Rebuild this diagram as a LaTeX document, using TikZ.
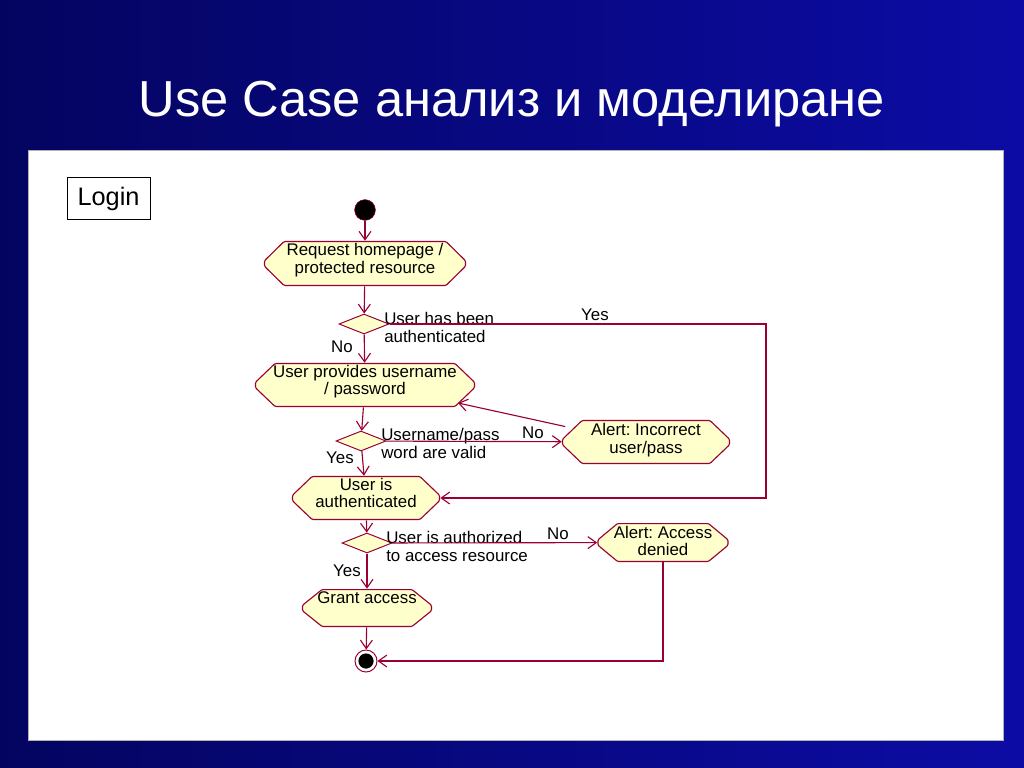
\documentclass[tikz,border=0pt]{standalone}
\usepackage{fontspec}
\setmainfont{Liberation Sans}
\frenchspacing
\usetikzlibrary{arrows.meta,shapes.geometric}

\definecolor{bgdark}{RGB}{4,4,96}
\definecolor{bglight}{RGB}{12,12,165}
\definecolor{rosefill}{RGB}{255,255,204}
\definecolor{roseline}{RGB}{153,0,51}

\tikzset{
  activity/.style={rectangle, align=center, inner sep=0pt, text depth=7pt,
    font=\fontsize{12}{12.5}\selectfont,
    path picture={
      \draw[roseline, fill=rosefill, line width=0.8pt, rounded corners=0.8pt]
        ([xshift=0.5cm, yshift=-0.4pt]path picture bounding box.north west)
        -- ([xshift=-0.5cm, yshift=-0.4pt]path picture bounding box.north east)
        -- ([xshift=-0.4pt, yshift=2pt]path picture bounding box.east)
        -- ([xshift=-0.4pt, yshift=-2pt]path picture bounding box.east)
        -- ([xshift=-0.5cm, yshift=0.4pt]path picture bounding box.south east)
        -- ([xshift=0.5cm, yshift=0.4pt]path picture bounding box.south west)
        -- ([xshift=0.4pt, yshift=-2pt]path picture bounding box.west)
        -- ([xshift=0.4pt, yshift=2pt]path picture bounding box.west)
        -- cycle;}},
  decision/.style={diamond, draw=roseline, fill=rosefill, line width=0.7pt,
    inner sep=0pt, minimum width=1.25cm, minimum height=0.5cm},
  flow/.style={draw=roseline, line width=0.8pt,
    -{Straight Barb[length=6pt, width=8.5pt, line width=0.8pt]}},
  guard/.style={inner sep=0pt, align=left, font=\fontsize{12}{12.5}\selectfont}
}

\begin{document}
\begin{tikzpicture}[x=0.025cm, y=-0.025cm]
  \useasboundingbox (0,0) rectangle (1024,768);
  \shade[left color=bgdark, right color=bglight] (0,0) rectangle (1024,768);
  \fill[white] (28,150) rectangle (1003,740);
  \draw[gray!60, line width=0.4pt] (28,150) rectangle (1003,740);

  \node (title) at (512,104) [text=white, font=\fontsize{36}{40}\selectfont]
    {Use Case анализ и моделиране};
  \node (login) at (108.5,198) [draw=black, line width=0.5pt, inner sep=0pt,
    minimum width=2.075cm, minimum height=1.05cm, text depth=2pt,
    font=\fontsize{18}{20}\selectfont] {Login};

  \node (start) at (365,210) [circle, fill=black, draw=roseline, inner sep=0pt,
    minimum size=0.52cm] {};
  \node (req) at (365,263.5) [activity, minimum width=5.05cm,
    minimum height=1.125cm] {Request homepage /\\protected resource};
  \node (chk1) at (364,324) [decision] {};
  \node (creds) at (365,385) [activity, minimum width=5.5cm,
    minimum height=1.1cm] {User provides username\\/ password};
  \node (chk2) at (361,441) [decision] {};
  \node (badpass) at (646,442) [activity, minimum width=4.2cm,
    minimum height=1.1cm, text depth=5pt] {Alert: Incorrect\\user/pass};
  \node (authd) at (366,498) [activity, minimum width=3.7cm,
    minimum height=1.1cm] {User is\\authenticated};
  \node (chk3) at (367,543) [decision] {};
  \node (denied) at (663,542.5) [activity, minimum width=3.275cm,
    minimum height=0.975cm, text depth=2.5pt] {Alert: Access\\denied};
  \node (grant) at (367,608) [activity, minimum width=3.25cm,
    minimum height=0.95cm, text depth=15pt] {Grant access};
  \node (stop) at (366,661) [circle, draw=roseline, fill=white, line width=0.7pt,
    inner sep=0pt, minimum size=0.55cm,
    path picture={\fill[black] (path picture bounding box.center) circle (0.19cm);}] {};
  \coordinate (yesturn) at (766,324);
  \coordinate (retry) at (458,403);

  \node (g1) at (384,327.5) [guard, anchor=west] {User has been\\authenticated};
  \node (g2) at (381,443.5) [guard, anchor=west] {Username/pass\\word are valid};
  \node (g3) at (386,546.5) [guard, anchor=west] {User is authorized\\to access resource};

  \draw[flow] (start) -- (req);
  \draw[flow] (req) -- (chk1);
  \draw[flow] (chk1) -- (creds);
  \node[guard] at (342,347) {No};
  \draw[flow] (chk1) -- (yesturn) |- (authd);
  \node[guard] at (595,315) {Yes};
  \draw[flow] (creds) -- (chk2);
  \draw[flow] (chk2) -- (badpass);
  \node[guard] at (533,433) {No};
  \draw[flow] ([xshift=2.5pt, yshift=11pt]badpass.west) -- (retry);
  \draw[flow] (chk2) -- (authd);
  \node[guard] at (340,458) {Yes};
  \draw[flow] (authd) -- (chk3);
  \draw[flow] (chk3) -- (denied);
  \node[guard] at (558,534) {No};
  \draw[flow] (chk3) -- (grant);
  \node[guard] at (347,571) {Yes};
  \draw[flow] (grant) -- (stop);
  \draw[flow] (denied) |- (stop);
\end{tikzpicture}
\end{document}
